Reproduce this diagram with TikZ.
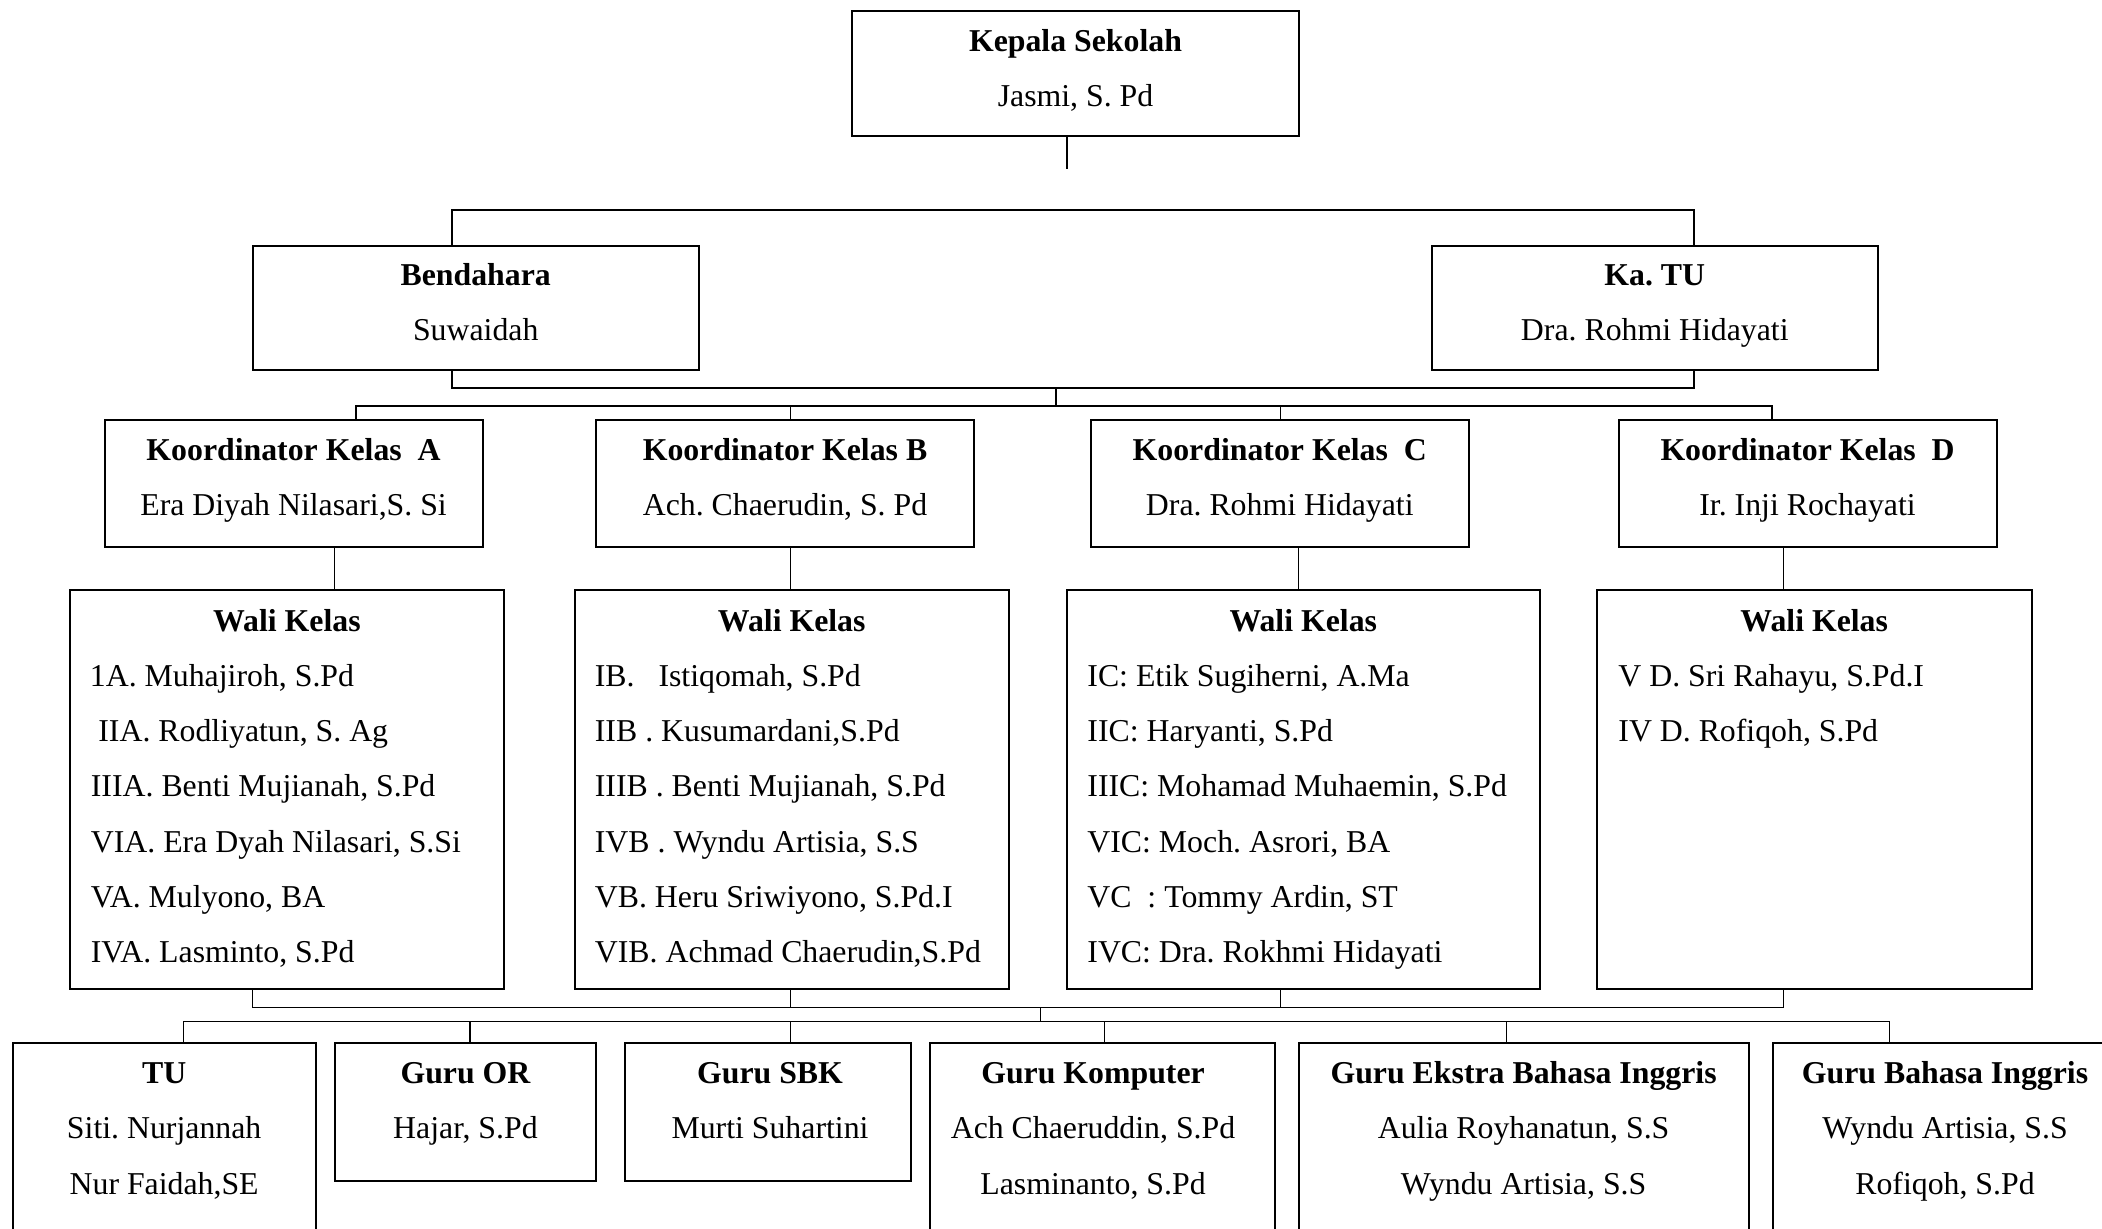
\documentclass[tikz,border=0pt]{standalone}
\usepackage{fontspec}
\setmainfont{Liberation Serif}
\frenchspacing
\begin{document}
\frenchspacing
\begin{tikzpicture}[x=0.5pt,y=-0.5pt]
\tikzset{
 box/.style={draw, line width=1pt, inner sep=0pt, outer sep=0pt},
 conn/.style={line width=0.65pt},
 thk/.style={line width=1pt},
 ttl/.style={font=\fontsize{15.9}{19}\selectfont\bfseries\frenchspacing, anchor=base, inner sep=0pt},
 nm/.style={font=\fontsize{15.9}{19}\selectfont\frenchspacing, anchor=base, inner sep=0pt},
 lst/.style={font=\fontsize{15.9}{19}\selectfont\frenchspacing, anchor=base west, inner sep=0pt},
}
\newcommand\orgbox[5]{\node[box, minimum width=#4*0.5pt, minimum height=#5*0.5pt] (#1) at (#2,#3) {};}
\useasboundingbox (0,0) rectangle (2102,1228);
\clip (0,0) rectangle (2102,1228);
\fill[white] (0,0) rectangle (2102,1228);

% boxes
\orgbox{kep}{1075.5}{73.3}{447}{124.6}
\orgbox{bend}{475.75}{307.85}{446.5}{123.7}
\orgbox{katu}{1654.75}{307.85}{446.5}{123.7}
\orgbox{koA}{293.55}{483.5}{378.1}{127}
\orgbox{koB}{785}{483.5}{378}{127}
\orgbox{koC}{1279.75}{483.5}{378.1}{127}
\orgbox{koD}{1807.55}{483.5}{378.1}{127}
\orgbox{waA}{286.95}{789.25}{434.9}{398.5}
\orgbox{waB}{791.75}{789.25}{434.5}{398.5}
\orgbox{waC}{1303.25}{789.25}{472.9}{398.5}
\orgbox{waD}{1814.2}{789.25}{435}{398.5}
\orgbox{tu}{164.15}{1151.35}{303.1}{217.3}
\orgbox{gor}{465.45}{1111.85}{261.7}{138.3}
\orgbox{sbk}{767.8}{1111.85}{285.6}{138.3}
\orgbox{kom}{1102.5}{1151.35}{344.6}{217.3}
\orgbox{eks}{1523.6}{1151.35}{449.8}{217.3}
\orgbox{bah}{1944.85}{1151.35}{344.3}{217.3}

% texts
\node[ttl] (kepT) at (1075.5,51.5) {Kepala Sekolah};
\node[nm]  (kepN) at (1075.5,106.8) {Jasmi, S. Pd};
\node[ttl] (bendT) at (475.75,285.5) {Bendahara};
\node[nm]  (bendN) at (475.75,340.8) {Suwaidah};
\node[ttl] (katuT) at (1654.75,285.5) {Ka. TU};
\node[nm]  (katuN) at (1654.75,340.8) {Dra. Rohmi Hidayati};

\node[ttl] (koAT) at (293.55,460.6) {Koordinator Kelas~~A};
\node[nm]  (koAN) at (293.55,515) {Era Diyah Nilasari,S. Si};
\node[ttl] (koBT) at (785,460.6) {Koordinator Kelas B};
\node[nm]  (koBN) at (785,515) {Ach. Chaerudin, S. Pd};
\node[ttl] (koCT) at (1279.75,460.6) {Koordinator Kelas~~C};
\node[nm]  (koCN) at (1279.75,515) {Dra. Rohmi Hidayati};
\node[ttl] (koDT) at (1807.55,460.6) {Koordinator Kelas~~D};
\node[nm]  (koDN) at (1807.55,515) {Ir. Inji Rochayati};

\node[ttl] (waAT) at (286.95,631) {Wali Kelas};
\node[lst] (waA1) at (89.5,686) {1A. Muhajiroh, S.Pd};
\node[lst] (waA2) at (98,741) {IIA. Rodliyatun, S. Ag};
\node[lst] (waA3) at (90.5,796.5) {IIIA. Benti Mujianah, S.Pd};
\node[lst] (waA4) at (90.5,852) {VIA. Era Dyah Nilasari, S.Si};
\node[lst] (waA5) at (90.5,907) {VA. Mulyono, BA};
\node[lst] (waA6) at (90.5,962.5) {IVA. Lasminto, S.Pd};

\node[ttl] (waBT) at (791.75,631) {Wali Kelas};
\node[lst] (waB1) at (594.5,686) {IB.~~~Istiqomah, S.Pd};
\node[lst] (waB2) at (594.5,741) {IIB . Kusumardani,S.Pd};
\node[lst] (waB3) at (594.5,796.5) {IIIB . Benti Mujianah, S.Pd};
\node[lst] (waB4) at (594.5,852) {IVB . Wyndu Artisia, S.S};
\node[lst] (waB5) at (594.5,907) {VB. Heru Sriwiyono, S.Pd.I};
\node[lst] (waB6) at (594.5,962.5) {VIB. Achmad Chaerudin,S.Pd};

\node[ttl] (waCT) at (1303.25,631) {Wali Kelas};
\node[lst] (waC1) at (1087,686) {IC: Etik Sugiherni, A.Ma};
\node[lst] (waC2) at (1087,741) {IIC: Haryanti, S.Pd};
\node[lst] (waC3) at (1087,796.5) {IIIC: Mohamad Muhaemin, S.Pd};
\node[lst] (waC4) at (1087,852) {VIC: Moch. Asrori, BA};
\node[lst] (waC5) at (1087,907) {VC~~: Tommy Ardin, ST};
\node[lst] (waC6) at (1087,962.5) {IVC: Dra. Rokhmi Hidayati};

\node[ttl] (waDT) at (1814.2,631) {Wali Kelas};
\node[lst] (waD1) at (1618,686) {V D. Sri Rahayu, S.Pd.I};
\node[lst] (waD2) at (1618,741) {IV D. Rofiqoh, S.Pd};

\node[ttl] (tuT) at (164.15,1083.3) {TU};
\node[nm]  (tu1) at (164.15,1138.5) {Siti. Nurjannah};
\node[nm]  (tu2) at (164.15,1194) {Nur Faidah,SE};
\node[ttl] (gorT) at (465.45,1083.3) {Guru OR};
\node[nm]  (gor1) at (465.45,1138.5) {Hajar, S.Pd};
\node[ttl] (sbkT) at (770,1083.3) {Guru SBK};
\node[nm]  (sbk1) at (770,1138.5) {Murti Suhartini};
\node[ttl] (komT) at (1093,1083.3) {Guru Komputer};
\node[nm]  (kom1) at (1093,1138.5) {Ach Chaeruddin, S.Pd};
\node[nm]  (kom2) at (1093,1194) {Lasminanto, S.Pd};
\node[ttl] (eksT) at (1523.6,1083.3) {Guru Ekstra Bahasa Inggris};
\node[nm]  (eks1) at (1523.6,1138.5) {Aulia Royhanatun, S.S};
\node[nm]  (eks2) at (1523.6,1194) {Wyndu Artisia, S.S};
\node[ttl] (bahT) at (1945,1083.3) {Guru Bahasa Inggris};
\node[nm]  (bah1) at (1945,1138.5) {Wyndu Artisia, S.S};
\node[nm]  (bah2) at (1945,1194) {Rofiqoh, S.Pd};

% connectors
\coordinate (kx) at (1067,169);
\draw[conn] (kep.south -| kx) -- (kx);
\coordinate (tl) at (452,210);
\coordinate (tr) at (1694,210);
\draw[thk] (bend.north -| tl) -- (tl) -- (tr) -- (katu.north -| tr);
\coordinate (ul) at (452,388);
\coordinate (ur) at (1694,388);
\draw[thk] (bend.south -| ul) -- (ul) -- (ur) -- (katu.south -| ur);
\coordinate (m1) at (1056,388);
\coordinate (m2) at (1056,406);
\draw[conn] (m1) -- (m2);
\coordinate (ka) at (356,406);
\coordinate (kb) at (790.6,406);
\coordinate (kc) at (1280.4,406);
\coordinate (kd) at (1772,406);
\draw[conn] (koA.north -| ka) -- (ka) -- (kd) -- (koD.north -| kd);
\draw[conn] (kb) -- (koB.north -| kb);
\draw[conn] (kc) -- (koC.north -| kc);
\coordinate (wa) at (334.6,0);
\coordinate (wb) at (790.6,0);
\coordinate (wc) at (1298.7,0);
\coordinate (wd) at (1783.6,0);
\draw[conn] (koA.south -| wa) -- (waA.north -| wa);
\draw[conn] (koB.south -| wb) -- (waB.north -| wb);
\draw[conn] (koC.south -| wc) -- (waC.north -| wc);
\draw[conn] (koD.south -| wd) -- (waD.north -| wd);
\coordinate (la) at (252.5,1007.5);
\coordinate (lb) at (790.6,1007.5);
\coordinate (lc) at (1280.4,1007.5);
\coordinate (ld) at (1783.6,1007.5);
\draw[conn] (waA.south -| la) -- (la) -- (ld) -- (waD.south -| ld);
\draw[conn] (waB.south -| lb) -- (lb);
\draw[conn] (waC.south -| lc) -- (lc);
\coordinate (n1) at (1040.3,1007.5);
\coordinate (n2) at (1040.3,1021.5);
\draw[conn] (n1) -- (n2);
\coordinate (ba) at (183.8,1021.5);
\coordinate (bb) at (470,1021.5);
\coordinate (bc) at (790.6,1021.5);
\coordinate (bd) at (1104.5,1021.5);
\coordinate (be) at (1506.7,1021.5);
\coordinate (bf) at (1889.5,1021.5);
\draw[conn] (tu.north -| ba) -- (ba) -- (bf) -- (bah.north -| bf);
\draw[conn] (bb) -- (gor.north -| bb);
\draw[conn] (bc) -- (sbk.north -| bc);
\draw[conn] (bd) -- (kom.north -| bd);
\draw[conn] (be) -- (eks.north -| be);
\end{tikzpicture}
\end{document}
